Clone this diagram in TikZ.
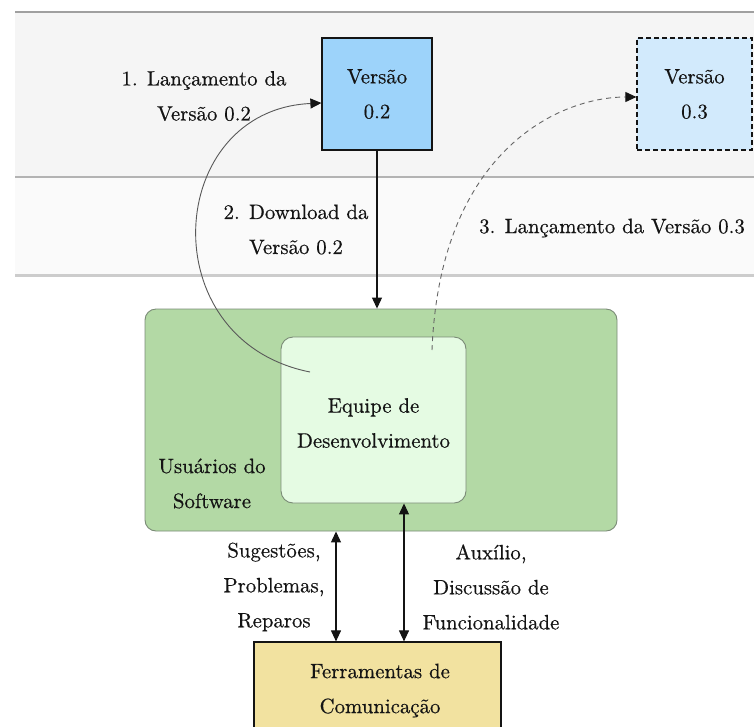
\documentclass[tikz,border=0pt]{standalone}
\usepackage{fontspec}
\newfontfamily\diagfont{lmroman10-regular.otf}[FakeBold=0.5]
\usetikzlibrary{arrows.meta,calc}

\definecolor{lanetop}{HTML}{F5F5F5}
\definecolor{lanemid}{HTML}{FAFAFA}
\definecolor{laneline}{HTML}{A0A0A0}
\definecolor{lanelinelow}{HTML}{CCCCCC}
\definecolor{relfill}{HTML}{9DD3FA}
\definecolor{nextfill}{HTML}{D2EAFC}
\definecolor{usersfill}{HTML}{B3D9A5}
\definecolor{teamfill}{HTML}{E5FBE3}
\definecolor{toolsfill}{HTML}{F2E2A0}
\definecolor{greenedge}{HTML}{7A8A76}
\definecolor{ink}{HTML}{141414}

\tikzset{
  box/.style={rectangle, draw=ink, line width=1.2pt, inner sep=0pt, align=center, text=ink},
  roundbox/.style={rectangle, rounded corners=11pt, draw=greenedge, line width=0.9pt, inner sep=0pt, align=center, text=ink},
  lbl/.style={align=center, inner sep=0pt, text=ink},
  conn/.style={draw=ink, line width=1.1pt},
  tip/.style={-{Triangle[length=11pt,width=10pt,color=ink]}},
  bothtips/.style={{Triangle[length=11pt,width=10pt]}-{Triangle[length=11pt,width=10pt]}},
  flowcurve/.style={draw=black!65, line width=0.9pt},
  futurecurve/.style={draw=black!60, line width=0.9pt, dash pattern=on 5pt off 4pt}
}

\begin{document}
\begin{tikzpicture}[x=1pt, y=-1pt, font=\diagfont\fontsize{20.8}{35}\selectfont]
\useasboundingbox (0,0) rectangle (754,726);

% swimlanes
\fill[lanetop] (15,12) rectangle (754,177);
\fill[lanemid] (15,177) rectangle (754,275);
\draw[laneline, line width=1.5pt] (15,12) -- (754,12);
\draw[laneline!80, line width=1.5pt] (15,177) -- (754,177);
\draw[lanelinelow, line width=3pt] (15,275) -- (754,275);

% releases
\node[box, fill=relfill, minimum width=110pt, minimum height=112pt] (v02) at (377,94) {Versão\\0.2};
\node[box, fill=nextfill, dash pattern=on 5pt off 3pt, minimum width=115pt, minimum height=112pt] (v03) at (694.5,94) {Versão\\0.3};

% users and development team
\node[roundbox, fill=usersfill, minimum width=472pt, minimum height=222pt] (users) at (381,420) {};
\node[roundbox, fill=teamfill, rounded corners=12pt, minimum width=185pt, minimum height=166pt] (team) at (373.5,420) {};
\node[lbl] (teamtext) at (373.5,423) {Equipe de\\Desenvolvimento};
\node[lbl] (userstext) at (212,483.5) {Usuários do\\Software};

% communication tools
\node[box, fill=toolsfill, minimum width=247pt, minimum height=118pt] (tools) at (377.5,701) {};
\node[lbl] (toolstext) at (380,690.5) {Ferramentas de\\Comunicação};

% download of the release
\draw[conn, tip] (v02.south) -- (v02.south |- users.north);

% release 0.2 from the team
\coordinate (relstart) at (310,372);
\draw[flowcurve, tip] (relstart) .. controls (150,340) and (165,110) .. ($(v02.west)+(0,9)$);

% upcoming release 0.3
\coordinate (nextstart) at (432,350);
\draw[futurecurve, tip] (nextstart) .. controls (440,150) and (560,97) .. ($(v03.west)+(0,3)$);

% exchanges with the communication tools
\coordinate (ua) at ($(users.south)+(-45,0)$);
\coordinate (ta) at ($(team.south)+(30.5,0)$);
\draw[conn, bothtips] (ua) -- (ua |- tools.north);
\draw[conn, bothtips] (ta) -- (ta |- tools.north);

% labels
\node[lbl] (l1) at (204,96) {1. Lançamento da\\Versão 0.2};
\node[lbl] (l2) at (296,229.5) {2. Download da\\Versão 0.2};
\node[lbl] (l3) at (612,228) {3. Lançamento da Versão 0.3};
\node[lbl] (l4) at (274,587) {Sugestões,\\Problemas,\\Reparos};
\node[lbl] (l5) at (491,587) {Auxílio,\\Discussão de\\Funcionalidade};
\end{tikzpicture}
\end{document}
